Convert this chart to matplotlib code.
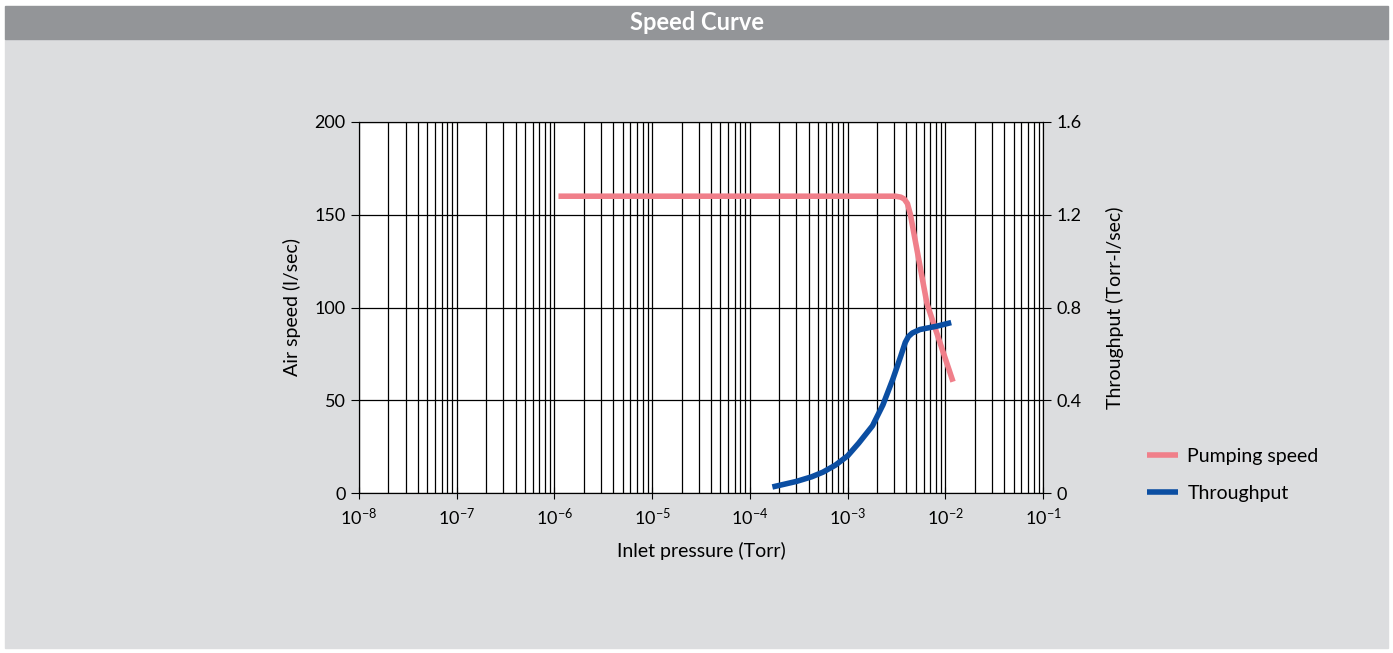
import matplotlib.pyplot as plt
from matplotlib.patches import Rectangle
from matplotlib.ticker import LogLocator, NullFormatter, FixedLocator

plt.rcParams['font.family'] = ['Lato', 'DejaVu Sans']

# pumping speed (l/sec) vs inlet pressure (Torr)
speed_p = [1.1e-6, 1e-5, 1e-4, 1e-3, 3.1e-3, 3.5e-3, 3.8e-3, 4.1e-3, 4.4e-3, 6.5e-3, 1.2e-2]
speed_v = [160, 160, 160, 160, 160, 159.5, 158.5, 156, 150, 102, 60]

# throughput (Torr-l/sec) vs inlet pressure (Torr)
thru_p = [1.7e-4, 3.0e-4, 4.3e-4, 5.6e-4, 7.5e-4, 1.0e-3, 1.3e-3, 1.8e-3, 2.3e-3, 2.9e-3,
          3.5e-3, 3.9e-3, 4.2e-3, 4.6e-3, 5.5e-3, 8.3e-3, 1.15e-2]
thru_v = [0.026, 0.05, 0.07, 0.09, 0.12, 0.16, 0.215, 0.29, 0.38, 0.49,
          0.59, 0.65, 0.675, 0.69, 0.705, 0.72, 0.735]

W, H = 1393, 653
fig = plt.figure(figsize=(W / 100, H / 100), dpi=100, facecolor='white')

# background panel and title bar
fig.patches.append(Rectangle((5 / W, 1 - 648 / H), 1383 / W, 609 / H,
                             transform=fig.transFigure, color='#dcdddf', zorder=-2))
fig.patches.append(Rectangle((5 / W, 1 - 39 / H), 1383 / W, 33 / H,
                             transform=fig.transFigure, color='#939598', zorder=-1))
fig.text(697 / W, 1 - 22 / H, 'Speed Curve', color='white', fontsize=17,
         fontweight='bold', ha='center', va='center')

ax = fig.add_axes([359 / W, 1 - 493 / H, 684 / W, 371 / H])
ax.set_facecolor('white')
ax.set_xscale('log')
ax.set_xlim(1e-8, 1e-1)
ax.set_ylim(0, 200)
ax.set_yticks([0, 50, 100, 150, 200])
ax.xaxis.set_major_locator(LogLocator(base=10, numticks=20))
ax.xaxis.set_minor_locator(LogLocator(base=10, subs=range(2, 10), numticks=100))
ax.xaxis.set_minor_formatter(NullFormatter())
ax.grid(True, which='both', axis='x', color='black', lw=0.9)
ax.grid(True, which='major', axis='y', color='black', lw=0.9)
ax.tick_params(axis='x', which='minor', length=0)
ax.tick_params(axis='x', which='major', direction='inout', length=8, labelsize=13, pad=6)
ax.tick_params(axis='y', direction='out', length=6, labelsize=13)
for s in ax.spines.values():
    s.set_color('#222222')

l1, = ax.plot(speed_p, speed_v, color='#f07f8a', lw=4, solid_capstyle='butt',
              solid_joinstyle='round', label='Pumping speed', zorder=3)
ax.set_xlabel('Inlet pressure (Torr)', fontsize=14, labelpad=10)
ax.set_ylabel('Air speed (l/sec)', fontsize=14, labelpad=10)

ax2 = ax.twinx()
ax2.set_ylim(0, 1.6)
ax2.yaxis.set_major_locator(FixedLocator([0, 0.4, 0.8, 1.2, 1.6]))
ax2.set_yticklabels(['0', '0.4', '0.8', '1.2', '1.6'])
ax2.tick_params(axis='y', direction='out', length=6, labelsize=13)
l2, = ax2.plot(thru_p, thru_v, color='#0b4ea2', lw=4, solid_capstyle='butt',
               solid_joinstyle='round', label='Throughput', zorder=3)
ax2.set_ylabel('Throughput (Torr-l/sec)', fontsize=14, labelpad=18)

fig.legend(handles=[l1, l2], loc='center left',
           bbox_to_anchor=(1129 / W, 1 - 475 / H), frameon=False,
           fontsize=14, handlelength=1.6, handletextpad=0.5, labelspacing=1.0)

fig.savefig('out.png', dpi=100, facecolor=fig.get_facecolor())
